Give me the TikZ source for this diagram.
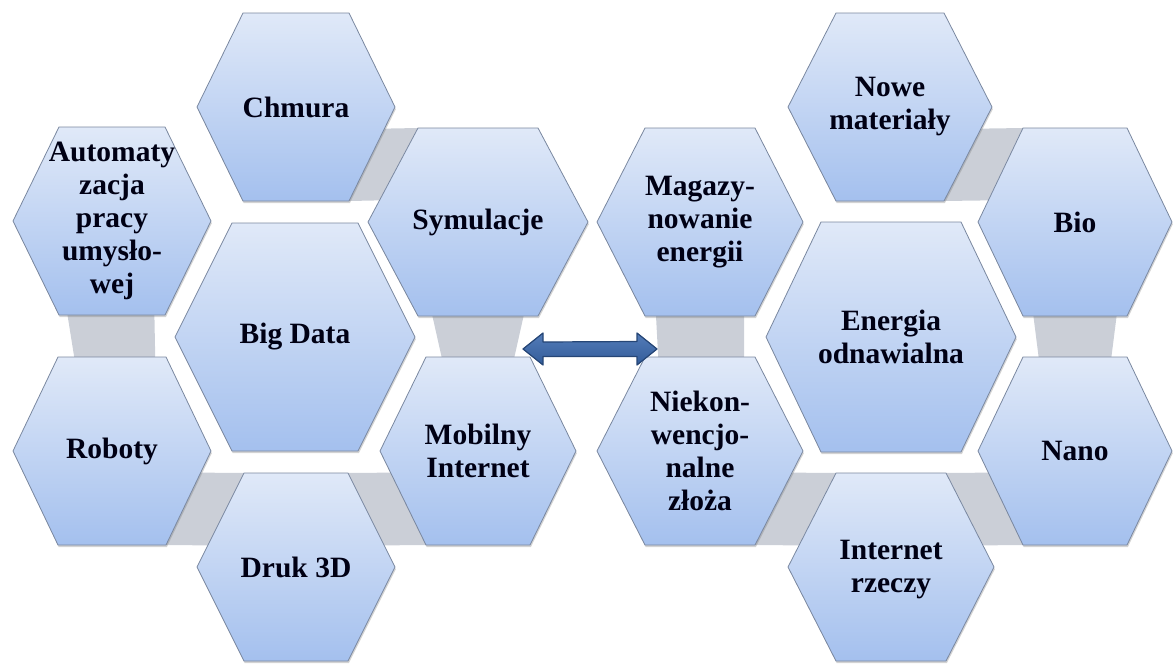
\documentclass[tikz,border=0pt]{standalone}
\usepackage{fontspec}
\setmainfont{Liberation Serif}
\usetikzlibrary{calc,shadows,backgrounds}

\definecolor{hextop}{RGB}{224,233,248}
\definecolor{hexbot}{RGB}{164,192,238}
\definecolor{hexline}{RGB}{122,136,160}
\definecolor{bondgray}{RGB}{203,207,215}
\definecolor{linktop}{RGB}{84,124,184}
\definecolor{linkbot}{RGB}{50,92,154}
\definecolor{linkline}{RGB}{38,70,118}

\begin{document}
\begin{tikzpicture}[x=1pt,y=-1pt]
\tikzset{hexbody/.style = {draw=hexline, line width=0.8pt, top color=hextop, bottom color=hexbot, drop shadow={shadow xshift=0.8pt, shadow yshift=-2.2pt, opacity=0.35}}}
\tikzset{pics/hexa/.style args = {#1/#2/#3}{code={
  \path[hexbody] (-#1,0) coordinate (-w) -- (-#2,-#3) coordinate (-nw) -- (#2,-#3) coordinate (-ne)
    -- (#1,0) coordinate (-e) -- (#2,#3) coordinate (-se) -- (-#2,#3) coordinate (-sw) -- cycle;
  \coordinate (-c) at (0,0);}}}
\tikzset{lab/.style = {align=center, font=\bfseries\fontsize{29.5}{33}\selectfont, text=black!92!blue, inner sep=0pt}}
\tikzset{bond/.style = {fill=bondgray}}
\tikzset{link/.style = {draw=linkline, line width=1.2pt, top color=linktop, bottom color=linkbot, line join=round}}
\useasboundingbox (0,0) rectangle (1174,664);

% hexagons
\pic (autom) at (112,221) {hexa=99/53/94};
\pic (chmura) at (296,107) {hexa=99/53/94};
\pic (symul) at (478,222) {hexa=110/60/94};
\pic (bigdata) at (295,337) {hexa=120/63/114};
\pic (roboty) at (112,451) {hexa=99/54/94};
\pic (druk) at (296,567) {hexa=99/52/94};
\pic (mobil) at (478,451) {hexa=98/52/94};

\pic (magaz) at (700,222) {hexa=103/55/94};
\pic (nowe) at (890,107) {hexa=102/54/94};
\pic (bio) at (1075,222) {hexa=97/52/94};
\pic (energia) at (891,337) {hexa=125/70/115};
\pic (niekon) at (700,451) {hexa=103/55/94};
\pic (internet) at (891,567) {hexa=103/55/94};
\pic (nano) at (1075,451) {hexa=97/52/94};

\begin{scope}[on background layer]
% gray links behind the hexagons, left group
\fill[bond] ($(chmura-e)!.23!(chmura-se)$) -- (symul-nw) -- ($(symul-nw)!.77!(symul-w)$) -- (chmura-se) -- cycle;
\fill[bond] ($(symul-sw)!.12!(symul-se)$) -- ($(symul-sw)!.88!(symul-se)$) -- ($(mobil-nw)!.85!(mobil-ne)$) -- ($(mobil-nw)!.15!(mobil-ne)$) -- cycle;
\fill[bond] ($(mobil-w)!.23!(mobil-sw)$) -- (druk-ne) -- ($(druk-ne)!.77!(druk-e)$) -- (mobil-sw) -- cycle;
\fill[bond] ($(roboty-e)!.23!(roboty-se)$) -- (druk-nw) -- ($(druk-nw)!.77!(druk-w)$) -- (roboty-se) -- cycle;
\fill[bond] ($(autom-sw)!.08!(autom-se)$) -- ($(autom-sw)!.9!(autom-se)$) -- ($(roboty-nw)!.9!(roboty-ne)$) -- ($(roboty-nw)!.15!(roboty-ne)$) -- cycle;

% gray links, right group
\fill[bond] ($(nowe-e)!.23!(nowe-se)$) -- (bio-nw) -- ($(bio-nw)!.77!(bio-w)$) -- (nowe-se) -- cycle;
\fill[bond] ($(bio-sw)!.1!(bio-se)$) -- ($(bio-sw)!.9!(bio-se)$) -- ($(nano-nw)!.85!(nano-ne)$) -- ($(nano-nw)!.15!(nano-ne)$) -- cycle;
\fill[bond] ($(nano-w)!.23!(nano-sw)$) -- (internet-ne) -- ($(internet-ne)!.77!(internet-e)$) -- (nano-sw) -- cycle;
\fill[bond] ($(niekon-e)!.23!(niekon-se)$) -- (internet-nw) -- ($(internet-nw)!.77!(internet-w)$) -- (niekon-se) -- cycle;
\fill[bond] ($(magaz-sw)!.1!(magaz-se)$) -- ($(magaz-sw)!.9!(magaz-se)$) -- ($(niekon-nw)!.9!(niekon-ne)$) -- ($(niekon-nw)!.12!(niekon-ne)$) -- cycle;
\end{scope}

% labels
\node[lab] (autom) at (autom-c) {Automaty\\zacja\\pracy\\umysło-\\wej};
\node[lab] (chmura) at (chmura-c) {Chmura};
\node[lab] (symul) at (symul-c) {Symulacje};
\node[lab] (bigdata) at (bigdata-c) {Big Data};
\node[lab] (roboty) at (roboty-c) {Roboty};
\node[lab] (druk) at (druk-c) {Druk 3D};
\node[lab] (mobil) at (mobil-c) {Mobilny\\Internet};

\node[lab] (magaz) at (magaz-c) {Magazy-\\nowanie\\energii};
\node[lab] (nowe) at (nowe-c) {Nowe\\materiały};
\node[lab] (bio) at (bio-c) {Bio};
\node[lab] (energia) at (energia-c) {Energia\\odnawialna};
\node[lab] (niekon) at (niekon-c) {Niekon-\\wencjo-\\nalne\\złoża};
\node[lab] (internet) at ($(internet-c)+(0,3)$) {Internet\\rzeczy};
\node[lab] (nano) at (nano-c) {Nano};

% double arrow between the two groups
\coordinate (lft) at (523,349);
\coordinate (rgt) at (657,349);
\path[link] (lft) -- ++(20,-16) -- ++(0,9) -- ($(rgt)+(-20,-7.5)$) -- ++(0,-8.5) -- (rgt)
  -- ++(-20,16) -- ++(0,-8.5) -- ($(lft)+(20,7.5)$) -- ++(0,8.5) -- cycle;

\end{tikzpicture}
\end{document}
